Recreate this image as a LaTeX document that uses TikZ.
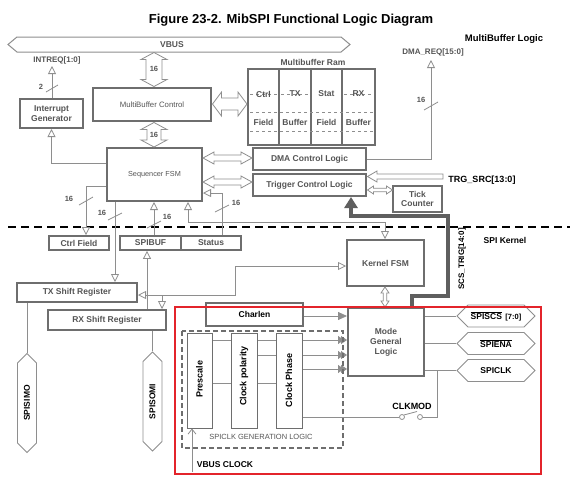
\documentclass[tikz,border=0pt]{standalone}
\usepackage{fontspec}
\setmainfont{Liberation Sans}
\usetikzlibrary{arrows.meta,shapes.symbols}
\pgfdeclarelayer{bg}
\pgfsetlayers{bg,main}
\newcommand\myfs[2]{\fontsize{#1pt}{#2pt}\selectfont}
\definecolor{bx}{HTML}{6E6E6E}
\definecolor{ln}{HTML}{8E8E8E}
\definecolor{tg}{HTML}{555555}
\definecolor{rd}{HTML}{E3242B}
\definecolor{thk}{HTML}{5F5F5F}
\newcommand\mydblh[6]{%
\draw[hollow] ({#1},{#3}) -- ({#1+#6},{#3-#5}) -- ({#1+#6},{#3-#4}) -- ({#2-#6},{#3-#4}) -- ({#2-#6},{#3-#5}) -- ({#2},{#3}) -- ({#2-#6},{#3+#5}) -- ({#2-#6},{#3+#4}) -- ({#1+#6},{#3+#4}) -- ({#1+#6},{#3+#5}) -- cycle;}
\newcommand\mydblv[6]{%
\draw[hollow] ({#3},{#1}) -- ({#3-#5},{#1+#6}) -- ({#3-#4},{#1+#6}) -- ({#3-#4},{#2-#6}) -- ({#3-#5},{#2-#6}) -- ({#3},{#2}) -- ({#3+#5},{#2-#6}) -- ({#3+#4},{#2-#6}) -- ({#3+#4},{#1+#6}) -- ({#3+#5},{#1+#6}) -- cycle;}
\begin{document}
\begin{tikzpicture}[x=1pt,y=-1pt,
  box/.style={draw=bx,line width=2pt,fill=white,inner sep=0pt,text=tg,font=\myfs{8.5}{9.5}\bfseries,align=center},
  thinbox/.style={draw=bx,line width=1pt,fill=white,inner sep=0pt},
  conn/.style={draw=ln,line width=0.8pt},
  oarr/.style={conn,-{Triangle[open,length=8pt,width=8pt]}},
  oboth/.style={conn,{Triangle[open,length=8pt,width=8pt]}-{Triangle[open,length=8pt,width=8pt]}},
  farr/.style={conn,-{Triangle[length=9pt,width=8pt,fill=ln]}},
  ffarr/.style={conn,-{Triangle[length=6pt,width=8pt,fill=ln,sep=-3pt]Triangle[length=6pt,width=8pt,fill=ln]}},
  hollow/.style={draw=ln,line width=0.8pt,fill=white},
  tick/.style={draw=ln,line width=0.8pt},
  num/.style={text=tg,font=\myfs{7.5}{8}\bfseries,inner sep=0pt},
  lbl/.style={text=black,font=\myfs{8.5}{9}\bfseries,inner sep=0pt},
  glbl/.style={text=tg,font=\myfs{8}{9}\bfseries,inner sep=0pt},
  hexh/.style={signal,signal to=west and east,draw=ln,line width=0.9pt,fill=white,minimum width=78pt,minimum height=22pt,inner sep=0pt,font=\myfs{8.5}{9}\bfseries},
  hexv/.style={signal,signal to=north and south,draw=ln,line width=0.9pt,fill=white,minimum width=19pt,minimum height=80pt,inner sep=0pt},
  ramdash/.style={draw=ln,line width=0.7pt,dash pattern=on 3pt off 3pt},
  ramtxt/.style={text=tg,font=\myfs{8.5}{9}\bfseries,inner sep=0pt}
]
\begin{pgfonlayer}{bg}
\fill[white] (0,0) rectangle (582,480);
\end{pgfonlayer}
\useasboundingbox (0,0) rectangle (582,480);

% title and region labels
\node[font=\myfs{13}{13}\bfseries,inner sep=0pt] (title) at (291,20) {Figure 23-2. MibSPI Functional Logic Diagram};
\node[font=\myfs{9.5}{10}\bfseries,inner sep=0pt] (mbl) at (504,39) {MultiBuffer Logic};
\node[lbl] (spik) at (505,240) {SPI Kernel};

% VBUS
\node[signal,signal to=west and east,draw=ln,line width=1pt,fill=white,minimum width=342pt,minimum height=15pt,signal pointer angle=80,inner sep=0pt] (vbus) at (179,44.5) {};
\node[glbl,font=\myfs{8.5}{9}\bfseries] (vbustxt) at (172,44.5) {VBUS};

% separator
\draw[black,line width=1.5pt,dash pattern=on 8pt off 5pt] (8,227) -- (570,227);

% boxes
\node[box,minimum width=63pt,minimum height=29pt] (intgen) at (51.5,113.5) {Interrupt\\Generator};
\node[box,minimum width=118pt,minimum height=33pt,font=\myfs{7.8}{9}] (mbc) at (152,104.5) {MultiBuffer Control};
\node[box,minimum width=127pt,minimum height=76pt] (ram) at (311.5,107) {};
\node[glbl,font=\myfs{8.5}{9}\bfseries] (ramlbl) at (313,62) {Multibuffer Ram};
\node[box,minimum width=113pt,minimum height=22pt] (dma) at (309.5,159) {DMA Control Logic};
\node[box,minimum width=113pt,minimum height=22pt] (trig) at (309.5,185) {Trigger Control Logic};
\node[box,minimum width=95pt,minimum height=53pt,font=\myfs{7.3}{8}] (seq) at (154.5,174.5) {Sequencer FSM};
\node[box,minimum width=49pt,minimum height=26pt] (tick) at (417.5,199) {Tick\\Counter};
\node[box,line width=1.8pt,minimum width=60pt,minimum height=14pt] (ctrlf) at (79,243) {Ctrl Field};
\node[box,line width=1.8pt,minimum width=61pt,minimum height=14pt] (spibuf) at (150.5,243) {SPIBUF};
\node[box,line width=1.8pt,minimum width=60pt,minimum height=14pt] (status) at (211,243) {Status};
\node[box,minimum width=77pt,minimum height=46pt] (kfsm) at (385.5,263) {Kernel FSM};
\node[box,minimum width=120pt,minimum height=19pt] (tx) at (77,292.5) {TX Shift Register};
\node[box,minimum width=118pt,minimum height=20pt] (rx) at (107,320) {RX Shift Register};
\node[box,minimum width=97pt,minimum height=23pt,text=black] (charlen) at (254.5,314.5) {Charlen};
\node[box,minimum width=76pt,minimum height=68pt,font=\myfs{8.5}{10}\bfseries] (mode) at (386,342) {Mode\\General\\Logic};

% multibuffer ram internals
\draw[bx,line width=1.2pt] (ram.north -| 279,0) -- (ram.south -| 279,0);
\draw[bx,line width=1.2pt] (ram.north -| 311,0) -- (ram.south -| 311,0);
\draw[bx,line width=1.2pt] (ram.north -| 342,0) -- (ram.south -| 342,0);
\draw[ramdash] (250,94) -- (277,94);
\draw[ramdash] (281,94) -- (309,94);
\draw[ramdash] (344,94) -- (373,94);
\draw[ramdash] (250,112) -- (373,112);
\draw[ramdash] (250,131) -- (373,131);
\node[ramtxt] (r1) at (263.5,94) {Ctrl};
\node[ramtxt] (r2) at (295,94) {TX};
\node[ramtxt] (r3) at (326.5,94) {Stat};
\node[ramtxt] (r4) at (358.5,94) {RX};
\node[ramtxt] (r5) at (263.5,122) {Field};
\node[ramtxt] (r6) at (295,122) {Buffer};
\node[ramtxt] (r7) at (326.5,122) {Field};
\node[ramtxt] (r8) at (358.5,122) {Buffer};

% wide hollow double arrows
\mydblv{52.5}{86.5}{154}{8}{13}{7}
\node[num] (n16a) at (154,69) {16};
\mydblv{122.5}{147}{154}{7}{13}{7}
\node[num] (n16b) at (154,135) {16};
\mydblh{212.5}{247}{104}{6}{12}{9}
\mydblh{203}{252}{158}{3}{6}{11}
\mydblh{203}{252}{182}{3}{6}{11}
\mydblh{367.5}{392.5}{190}{1.8}{4}{6}
\mydblv{287}{307}{385}{1.8}{4}{6}
\draw[hollow] (367.5,176.5) -- (377,171) -- (377,174) -- (443,174) -- (443,179) -- (377,179) -- (377,182) -- cycle;
\node[lbl,font=\myfs{9}{9}\bfseries] (trgsrc) at (482,180) {TRG\_SRC[13:0]};

% interrupt
\coordinate (intreq) at (52,66);
\node[glbl] (intreqlbl) at (57,60) {INTREQ[1:0]};
\draw[oarr] (intgen.north -| intreq) -- (intreq);
\draw[tick] (46,92) -- (58,85);
\node[num] at (41,87) {2};
\draw[oarr] (seq.west |- 0,163) -| (intgen.south);

% DMA request
\coordinate (dmareq) at (431,60);
\node[glbl] (dmareqlbl) at (433,52) {DMA\_REQ[15:0]};
\draw[oarr] (dma.east) -| (dmareq);
\draw[tick] (424,110) -- (438,102);
\node[num] at (421,100) {16};

% sequencer connections
\draw[oarr] (seq.west |- 0,186) -- (86,186) -- (ctrlf.north -| 86,0);
\draw[tick] (79,205) -- (93,197);
\node[num] at (69,199) {16};
\draw[oarr] (seq.south -| 115,0) -- (tx.north -| 115,0);
\draw[tick] (108,220) -- (122,213);
\node[num] at (102,213) {16};
\draw[oarr] (spibuf.north -| 154,0) -- (seq.south -| 154,0);
\draw[tick] (147,228) -- (161,221);
\node[num] at (167,217) {16};
\draw[oarr] (status.north -| 222,0) -- (222,193) -- (seq.east |- 0,193);
\draw[tick] (215,212) -- (229,205);
\node[num] at (236,203) {16};
\draw[oboth] (seq.south -| 188,0) -- (188,222) -- (385,222) -- (kfsm.north -| 385,0);
\draw[oarr] (rx.north -| 147,0) -- (spibuf.south -| 147,0);
\draw[oboth] (tx.east |- 0,295) -- (235,295) -- (235,266) -- (kfsm.west |- 0,266);
\draw[oarr] (162,295) -- (rx.north -| 162,0);

% pins
\node[hexv] (simo) at (27,403) {};
\node[rotate=90,lbl] at (simo) {SPISIMO};
\node[hexv] (somi) at (152.5,401.5) {};
\node[rotate=90,lbl] at (somi) {SPISOMI};
\draw[conn] (tx.south -| simo.north) -- (simo.north);
\draw[conn] (rx.south -| somi.north) -- (somi.north);

% SCS_TRIG
\draw[thk,line width=3.5pt,-{Triangle[length=11pt,width=13pt]}] (mode.north -| 412,0) -- (412,296) -- (448,296) -- (448,216) -- (351,216) -- (trig.south -| 351,0);
\node[lbl,rotate=90,font=\myfs{8}{8}\bfseries] (scstrig) at (462,259) {SCS\_TRIG[14:0]};

% SPICLK generation
\node[thinbox,minimum width=25pt,minimum height=95pt] (prescale) at (199.5,380.5) {};
\node[thinbox,minimum width=26pt,minimum height=95pt] (clkpol) at (244,380.5) {};
\node[thinbox,minimum width=26pt,minimum height=95pt] (clkph) at (289,380.5) {};
\node[rotate=90,lbl,font=\myfs{9}{9}\bfseries] at (199.5,379) {Prescale};
\node[rotate=90,lbl,font=\myfs{9}{9}\bfseries] at (244,376) {Clock polarity};
\node[rotate=90,lbl,font=\myfs{9}{9}\bfseries] at (289,380.5) {Clock Phase};
\begin{pgfonlayer}{bg}
\draw[ffarr] (prescale.east |- 0,340) -- (mode.west |- 0,340);
\draw[ffarr] (clkpol.east |- 0,355) -- (mode.west |- 0,355);
\draw[ffarr] (clkph.east |- 0,369) -- (mode.west |- 0,369);
\end{pgfonlayer}
\draw[conn] (prescale.east |- 0,383) -- (clkpol.west |- 0,383);
\draw[conn] (clkpol.east |- 0,383) -- (clkph.west |- 0,383);
\draw[bx,line width=1.8pt,dash pattern=on 5pt off 3pt] (182,331) rectangle (343,448);
\node[text=tg,font=\myfs{7.5}{8},inner sep=0pt] (genlbl) at (261,437) {SPICLK GENERATION LOGIC};
\draw[farr] (charlen.east |- 0,316) -- (mode.west |- 0,316);

% VBUS clock
\coordinate (vbclk) at (192,472);
\draw[conn,-{Straight Barb[length=5pt,width=8pt]}] (vbclk) -- (prescale.south -| vbclk);
\node[lbl] (vbclklbl) at (225,465) {VBUS CLOCK};

% outputs
\node[hexh] (spiscs) at (496,316) {\(\overline{\mbox{SPISCS}}\)\hspace{3.5pt}{\myfs{7.5}{8}[7:0]}};
\node[hexh] (spiena) at (496,343.5) {\(\overline{\mbox{SPIENA}}\)};
\node[hexh] (spiclk) at (496,370.5) {SPICLK};
\draw[conn] (mode.east |- spiscs.west) -- (spiscs.west);
\draw[conn] (mode.east |- spiena.west) -- (spiena.west);
\draw[conn] (mode.east |- spiclk.west) -- (spiclk.west);

% CLKMOD switch
\node[circle,draw=ln,line width=0.8pt,fill=white,inner sep=0pt,minimum size=5pt] (swa) at (402,417) {};
\node[circle,draw=ln,line width=0.8pt,fill=white,inner sep=0pt,minimum size=5pt] (swb) at (420,417) {};
\coordinate (clkjoin) at (437,370.5);
\draw[conn] (clkph.east |- swa) -- (swa.west);
\draw[conn] (swa.north east) -- (417,411.5);
\draw[conn] (swb.east) -- (clkjoin |- swb) -- (clkjoin);
\node[lbl,font=\myfs{9}{9}\bfseries] (clkmod) at (412,406) {CLKMOD};

% red frame
\draw[rd,line width=1.6pt] (175,307) rectangle (541,474);
\end{tikzpicture}
\end{document}
